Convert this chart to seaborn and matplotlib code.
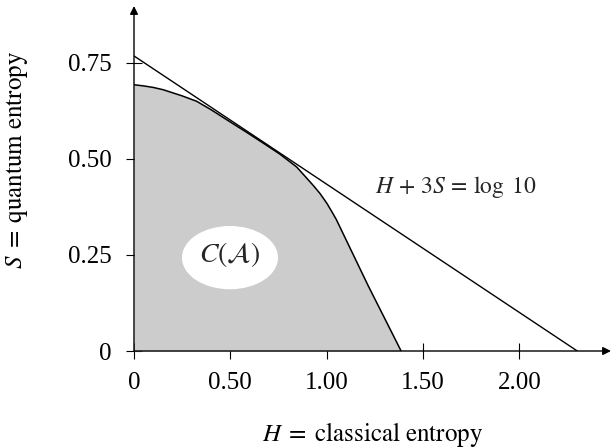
import matplotlib
matplotlib.use("Agg")
import matplotlib.pyplot as plt
from matplotlib.patches import Ellipse
import seaborn as sns
import pandas as pd

# boundary of the region C(A)
H_curve = [0.0, 0.05, 0.10, 0.152, 0.25, 0.325, 0.40, 0.50, 0.585, 0.671, 0.758,
           0.844, 0.93, 0.965, 1.0, 1.025, 1.05, 1.215, 1.386]
S_curve = [0.693, 0.690, 0.686, 0.680, 0.664, 0.650, 0.628, 0.596, 0.569, 0.541, 0.512,
           0.479, 0.431, 0.410, 0.385, 0.364, 0.342, 0.170, 0.0]

# the line H + 3S = log 10
H_line = [0.0, 2.30]
S_line = [0.768, 0.0]

x_ticks = [0, 0.5, 1.0, 1.5, 2.0]
x_labels = ["0", "0.50", "1.00", "1.50", "2.00"]
y_ticks = [0, 0.25, 0.5, 0.75]
y_labels = ["0", "0.25", "0.50", "0.75"]

curve = pd.DataFrame({"H": H_curve, "S": S_curve})
line = pd.DataFrame({"H": H_line, "S": S_line})

sns.set_theme(style="white")
plt.rcParams["font.family"] = ["Liberation Serif", "DejaVu Serif"]
plt.rcParams["mathtext.fontset"] = "stix"
fs = 18

fig = plt.figure(figsize=(6.11, 4.48), dpi=100)
ax = fig.add_axes([134 / 611, 97 / 448, 477 / 611, 345 / 448])

ax.fill_between(curve["H"], curve["S"], 0, color="#cccccc", lw=0, zorder=1)
sns.lineplot(data=curve, x="H", y="S", sort=False, color="black", lw=1.1, ax=ax, zorder=3)
sns.lineplot(data=line, x="H", y="S", sort=False, color="black", lw=1.0, ax=ax, zorder=3)

ax.add_patch(Ellipse((0.498, 0.243), 0.491, 0.161, color="white", zorder=2))
ax.text(0.498, 0.25, r"$C(\mathcal{A})$", ha="center", va="center", fontsize=20, zorder=4)
ax.text(1.25, 0.411, r"$H\,+\,3S\,=\,\log\ 10$", ha="left", va="baseline", fontsize=17)

ax.set_xlim(0, 2.475)
ax.set_ylim(0, 0.898)
for sp in ax.spines.values():
    sp.set_visible(False)

arrow = dict(arrowstyle="-|>", lw=1.0, color="black", mutation_scale=12, shrinkA=0, shrinkB=0)
ax.annotate("", xy=(1, 0), xytext=(0, 0), xycoords="axes fraction",
            arrowprops=arrow, annotation_clip=False, zorder=5)
ax.annotate("", xy=(0, 1), xytext=(0, 0), xycoords="axes fraction",
            arrowprops=arrow, annotation_clip=False, zorder=5)

ax.set_xticks(x_ticks)
ax.set_xticklabels(x_labels)
ax.set_yticks(y_ticks)
ax.set_yticklabels(y_labels)
ax.tick_params(axis="both", direction="inout", length=12, width=0.8, color="black",
               labelsize=fs, labelcolor="black", bottom=True, left=True)
ax.tick_params(axis="x", pad=9)
ax.tick_params(axis="y", pad=10)

ax.set_xlabel(r"$H\;=\;\mathrm{classical\ entropy}$", fontsize=fs, color="black")
ax.set_ylabel(r"$S\;=\;\mathrm{quantum\ entropy}$", fontsize=fs, color="black")
ax.xaxis.set_label_coords(0.50, -0.262)
ax.xaxis.label.set_verticalalignment("baseline")
ax.yaxis.set_label_coords(-0.218, 0.554)

fig.savefig("out.png", dpi=100)
